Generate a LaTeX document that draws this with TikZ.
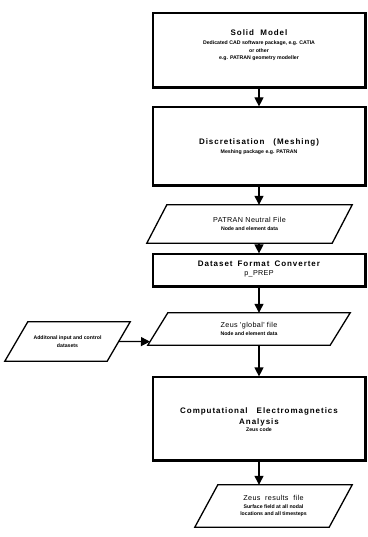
\documentclass[tikz,border=0pt]{standalone}
\usepackage{fontspec}
\setmainfont{Liberation Sans}
\newfontfamily\hdfont[LetterSpace=12]{Liberation Sans}
\newfontfamily\pfont[LetterSpace=5]{Liberation Sans}
\usetikzlibrary{arrows.meta,calc}

% text sizes
\newcommand\hdtxt{\hdfont\bfseries\fontsize{8}{10}\selectfont}
\newcommand\ptxt{\pfont\mdseries\fontsize{7.2}{9}\selectfont}
\newcommand\smtxt{\bfseries\fontsize{5.2}{7.4}\selectfont}

% heavy bottom and right edges of a process box
\newcommand\heavyedge[1]{%
  \draw[line width=2pt] (#1.south west) -- (#1.south east) -- (#1.north east);}
% outline of a data parallelogram around a node, top edge shifted right
\newcommand\paraline[2]{%
  \draw[pline] ([xshift=-#2]#1.south west) -- ([xshift=-#2]#1.south east)
    -- ([xshift=#2]#1.north east) -- ([xshift=#2]#1.north west) -- cycle;}

\begin{document}
\begin{tikzpicture}[x=1pt,y=-1pt,
  box/.style={draw, line width=1.2pt, minimum width=212pt, inner sep=0pt},
  pnode/.style={inner sep=0pt, align=center, font=\smtxt},
  pline/.style={line width=1.3pt, line join=miter},
  txt/.style={inner sep=0pt, align=center, font=\smtxt},
  flow/.style={line width=1.2pt, -{Triangle[length=9pt,width=9pt]}}]

\useasboundingbox (0,0) rectangle (367,537);

% process boxes
\node[box, minimum height=74pt] (B1) at (259,50) {};
\node[box, minimum height=78pt] (B2) at (259,146) {};
\node[box, minimum height=32pt] (B3) at (259,270) {};
\node[box, minimum height=83pt] (B4) at (259,418.5) {};
\foreach \b in {B1,B2,B3,B4} {\heavyedge{\b}}

\node[txt] (T1) at (259,45) {{\hdtxt Solid\ \ Model}\\[2pt]
  Dedicated CAD software package, e.g. CATIA\\ or other\\
  e.g. PATRAN geometry modeller};
\node[txt] (T2) at (259,146.5) {{\hdtxt Discretisation\hspace{9pt}(Meshing)}\\[2pt]
  Meshing package e.g. PATRAN};
\node[txt] (T3) at (259,269) {{\hdtxt Dataset\hspace{5pt}Format\hspace{5pt}Converter}\\[2pt]
  {\ptxt p\_PREP}};
\node[txt] (T4) at (259,420) {{\hdtxt Computational\hspace{9pt}Electromagnetics}\\[2pt]
  {\hdtxt Analysis}\\ Zeus code};

% data parallelograms
\node[pnode, minimum width=185pt, minimum height=38pt] (P1) at (249.5,224)
  {{\ptxt PATRAN Neutral File}\\[1pt] Node and element data};
\node[pnode, minimum width=182pt, minimum height=32pt] (P2) at (249,329)
  {{\ptxt Zeus 'global' file}\\[1pt] Node and element data};
\node[pnode, minimum width=102pt, minimum height=39pt] (P3) at (67.5,341.5)
  {Additonal input and control\\ datasets};
\node[pnode, minimum width=134pt, minimum height=42pt] (P4) at (273.5,506)
  {{\ptxt Zeus\ \ results\ \ file}\\[1pt] Surface field at all nodal\\
   locations and all timesteps};
\paraline{P1}{10pt}
\paraline{P2}{10pt}
\paraline{P3}{11.5pt}
\paraline{P4}{11.5pt}

% flow arrows
\draw[flow] (B1.south) -- (B2.north);
\draw[flow] (B2.south) -- (B2.south |- P1.north);
\draw[flow] (B3.north |- P1.south) -- (B3.north);
\draw[flow] (B3.south) -- (B3.south |- P2.north);
\draw[flow] (B4.north |- P2.south) -- (B4.north);
\draw[flow] (B4.south) -- (B4.south |- P4.north);
\coordinate (P2in) at ($([xshift=-10pt]P2.south west)!0.11!([xshift=10pt]P2.north west)$);
\draw[flow] (P3.east) -- (P2in);
\end{tikzpicture}
\end{document}
